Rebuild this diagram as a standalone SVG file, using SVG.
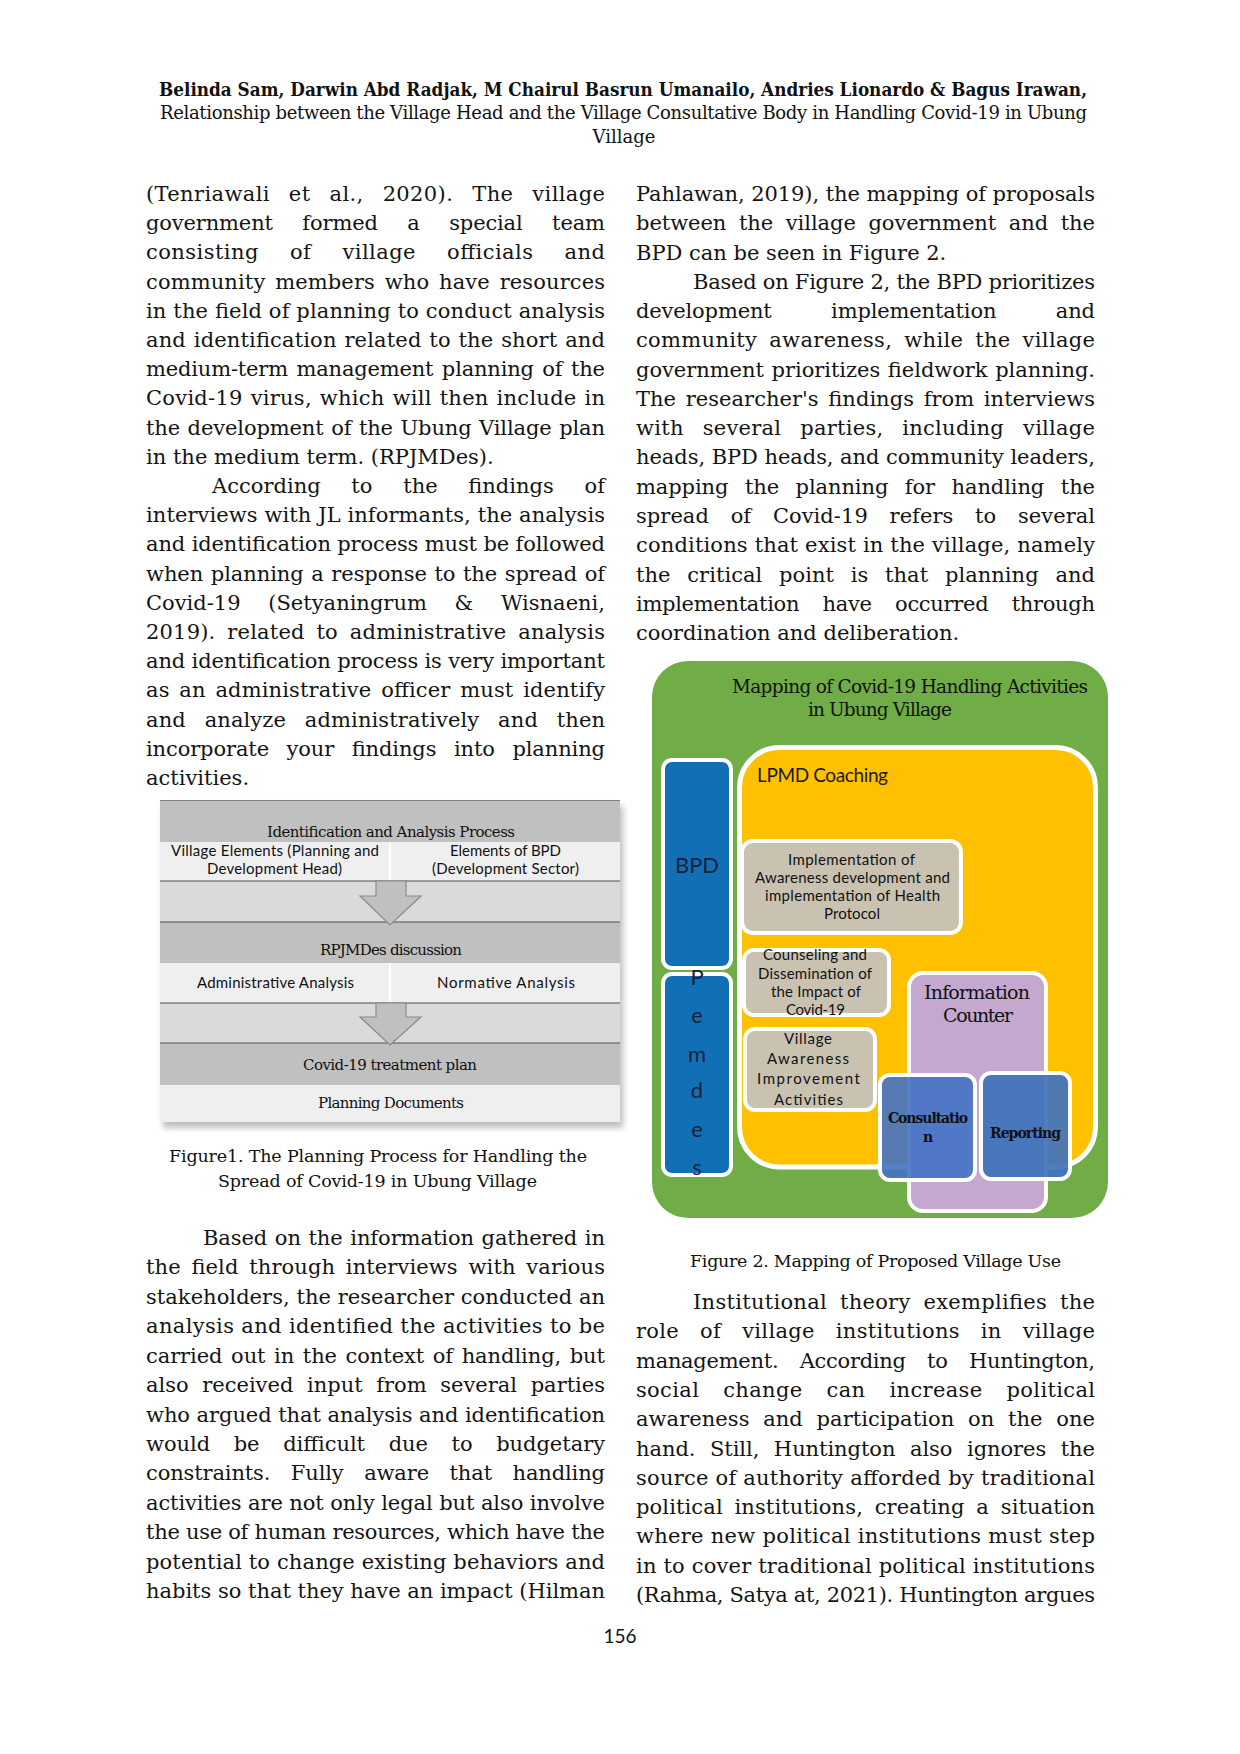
<svg xmlns="http://www.w3.org/2000/svg" width="1240" height="1754" viewBox="0 0 1240 1754">
<style>
.t{font-family:"DejaVu Serif","Liberation Serif",serif;font-size:21px;fill:#141414}
.hb{font-family:"DejaVu Serif","Liberation Serif",serif;font-weight:bold;font-size:18px;fill:#111}
.h{font-family:"DejaVu Serif","Liberation Serif",serif;font-size:18px;fill:#111}
.cap{font-family:"DejaVu Serif","Liberation Serif",serif;font-size:17.5px;fill:#111}
.fs{font-family:"DejaVu Serif","Liberation Serif",serif;font-size:15px;fill:#111}
.fl{font-family:Lato,"Liberation Sans",sans-serif;font-size:15px;fill:#111}
.band{fill:#C0C0C0}
.light{fill:#EFEFEF}
.gap{fill:#DADADA}
.sep{stroke:#505050;stroke-width:1.2}
.div{stroke:#FFFFFF;stroke-width:2}
.arrow{fill:#C0C0C0;stroke:#8A8A8A;stroke-width:1.2}
.gray{fill:#C9C2B1;stroke:#FFFFFF;stroke-width:4}
.gl{font-family:Lato,"Liberation Sans",sans-serif;font-size:15px;fill:#111}
.big{font-family:Lato,"Liberation Sans",sans-serif;font-size:22px;fill:#1B1F3A}
.f2s{font-family:"DejaVu Serif","Liberation Serif",serif;fill:#111}
</style>
<defs>
<filter id="blur" x="-5%" y="-5%" width="110%" height="115%"><feGaussianBlur stdDeviation="3"/></filter>
</defs>
<rect width="1240" height="1754" fill="#FFFFFF"/>

<g id="header">
<text class="hb" x="159" y="95.5" textLength="928" lengthAdjust="spacingAndGlyphs">Belinda Sam, Darwin Abd Radjak, M Chairul Basrun Umanailo, Andries Lionardo &amp; Bagus Irawan,</text>
<text class="h" x="160" y="119" textLength="927" lengthAdjust="spacing">Relationship between the Village Head and the Village Consultative Body in Handling Covid-19 in Ubung</text>
<text class="h" x="624" y="143" text-anchor="middle">Village</text>
</g>

<g id="left-column-top">
<text class="t" x="146" y="201" textLength="459" style="word-spacing:12px">(Tenriawali et al., 2020). The village</text>
<text class="t" x="146" y="230.2" textLength="459" style="word-spacing:23px">government formed a special team</text>
<text class="t" x="146" y="259.4" textLength="459" style="word-spacing:24px">consisting of village officials and</text>
<text class="t" x="146" y="288.6" textLength="459" style="word-spacing:3px">community members who have resources</text>
<text class="t" x="146" y="317.8" textLength="459">in the field of planning to conduct analysis</text>
<text class="t" x="146" y="347" textLength="459" style="word-spacing:1px">and identification related to the short and</text>
<text class="t" x="146" y="376.2" textLength="459" style="word-spacing:2px">medium-term management planning of the</text>
<text class="t" x="146" y="405.4" textLength="459" style="word-spacing:1px">Covid-19 virus, which will then include in</text>
<text class="t" x="146" y="434.6" textLength="459" style="word-spacing:1px">the development of the Ubung Village plan</text>
<text class="t" x="146" y="463.8">in the medium term. (RPJMDes).</text>
<text class="t" x="212" y="493" textLength="393" style="word-spacing:24px">According to the findings of</text>
<text class="t" x="146" y="522.2" textLength="459">interviews with JL informants, the analysis</text>
<text class="t" x="146" y="551.4" textLength="459">and identification process must be followed</text>
<text class="t" x="146" y="580.6" textLength="459" style="word-spacing:1px">when planning a response to the spread of</text>
<text class="t" x="146" y="609.8" textLength="459" style="word-spacing:21px">Covid-19 (Setyaningrum &amp; Wisnaeni,</text>
<text class="t" x="146" y="639" textLength="459" style="word-spacing:5px">2019). related to administrative analysis</text>
<text class="t" x="146" y="668.2" textLength="459">and identification process is very important</text>
<text class="t" x="146" y="697.4" textLength="459" style="word-spacing:3px">as an administrative officer must identify</text>
<text class="t" x="146" y="726.6" textLength="459" style="word-spacing:12px">and analyze administratively and then</text>
<text class="t" x="146" y="755.8" textLength="459" style="word-spacing:11px">incorporate your findings into planning</text>
<text class="t" x="146" y="785">activities.</text>
</g>

<g id="right-column-top">
<text class="t" x="636" y="201" textLength="459">Pahlawan, 2019), the mapping of proposals</text>
<text class="t" x="636" y="230.3" textLength="459" style="word-spacing:6px">between the village government and the</text>
<text class="t" x="636" y="259.5">BPD can be seen in Figure 2.</text>
<text class="t" x="693" y="288.8" textLength="402">Based on Figure 2, the BPD prioritizes</text>
<text class="t" x="636" y="318.1" textLength="459" style="word-spacing:53px">development implementation and</text>
<text class="t" x="636" y="347.4" textLength="459" style="word-spacing:5px">community awareness, while the village</text>
<text class="t" x="636" y="376.6" textLength="459" style="word-spacing:1px">government prioritizes fieldwork planning.</text>
<text class="t" x="636" y="405.9" textLength="459" style="word-spacing:3px">The researcher's findings from interviews</text>
<text class="t" x="636" y="435.2" textLength="459" style="word-spacing:12px">with several parties, including village</text>
<text class="t" x="636" y="464.4" textLength="459">heads, BPD heads, and community leaders,</text>
<text class="t" x="636" y="493.7" textLength="459" style="word-spacing:10px">mapping the planning for handling the</text>
<text class="t" x="636" y="523" textLength="459" style="word-spacing:15px">spread of Covid-19 refers to several</text>
<text class="t" x="636" y="552.2" textLength="459">conditions that exist in the village, namely</text>
<text class="t" x="636" y="581.5" textLength="459" style="word-spacing:10px">the critical point is that planning and</text>
<text class="t" x="636" y="610.8" textLength="459" style="word-spacing:17px">implementation have occurred through</text>
<text class="t" x="636" y="640">coordination and deliberation.</text>
</g>

<g id="figure1">
<rect x="163" y="806" width="460" height="322" fill="#8A8A8A" opacity="0.55" filter="url(#blur)"/>
<rect x="160" y="800" width="460" height="322" fill="#EFEFEF"/>
<g id="node-identification">
<rect class="band" x="160" y="800" width="460" height="42"/>
<line x1="160" y1="800.5" x2="620" y2="800.5" stroke="#808080" stroke-width="1"/>
<text class="fs" x="267" y="837" textLength="248">Identification and Analysis Process</text>
</g>
<g id="node-village-elements">
<rect class="light" x="160" y="842" width="230" height="38"/>
<text class="fl" x="171" y="856" textLength="208">Village Elements (Planning and</text>
<text class="fl" x="207" y="874" textLength="135">Development Head)</text>
</g>
<g id="node-bpd-elements">
<rect class="light" x="390" y="842" width="230" height="38"/>
<text class="fl" x="450" y="856" textLength="111">Elements of BPD</text>
<text class="fl" x="432" y="874" textLength="147">(Development Sector)</text>
</g>
<rect class="gap" x="160" y="881" width="460" height="41"/>
<line class="sep" x1="160" y1="881" x2="620" y2="881"/>
<g id="node-rpjmdes">
<rect class="band" x="160" y="922" width="460" height="41"/>
<line class="sep" x1="160" y1="922" x2="620" y2="922"/>
<text class="fs" x="320" y="955" textLength="142">RPJMDes discussion</text>
</g>
<g id="node-administrative">
<rect class="light" x="160" y="963" width="230" height="39"/>
<text class="fl" x="197" y="988" textLength="157">Administrative Analysis</text>
</g>
<g id="node-normative">
<rect class="light" x="390" y="963" width="230" height="39"/>
<text class="fl" x="437" y="988" textLength="138">Normative Analysis</text>
</g>
<line class="div" x1="390" y1="842" x2="390" y2="880"/>
<line class="div" x1="390" y1="963" x2="390" y2="1002"/>
<rect class="gap" x="160" y="1003" width="460" height="40"/>
<line class="sep" x1="160" y1="1003" x2="620" y2="1003"/>
<g id="node-covid-plan">
<rect class="band" x="160" y="1043" width="460" height="42"/>
<line class="sep" x1="160" y1="1043" x2="620" y2="1043"/>
<text class="fs" x="303" y="1070" textLength="174">Covid-19 treatment plan</text>
</g>
<g id="node-planning-docs">
<rect class="light" x="160" y="1085" width="460" height="37"/>
<text class="fs" x="318" y="1108" textLength="146">Planning Documents</text>
</g>
<g id="fig1-connectors">
<polygon class="arrow" points="376,881 406,881 406,896 421,896 390,925 360,896 376,896"/>
<polygon class="arrow" points="376,1003 406,1003 406,1017 421,1017 390,1045 360,1017 376,1017"/>
</g>
</g>

<g id="figure1-caption">
<text class="cap" x="169" y="1162" textLength="418">Figure1. The Planning Process for Handling the</text>
<text class="cap" x="218" y="1187" textLength="319">Spread of Covid-19 in Ubung Village</text>
</g>

<g id="figure2">
<g id="node-mapping">
<rect x="652" y="661" width="456" height="557" rx="36" fill="#70AD47"/>
<text class="f2s" x="732" y="693" font-size="18.5" textLength="356">Mapping of Covid-19 Handling Activities</text>
<text class="f2s" x="808" y="716" font-size="18.5" textLength="144">in Ubung Village</text>
</g>
<g id="node-bpd">
<rect x="663" y="760" width="68" height="208" rx="9" fill="#1170B5" stroke="#FFFFFF" stroke-width="4"/>
<text class="big" x="697" y="873" text-anchor="middle">BPD</text>
</g>
<g id="node-pemdes">
<rect x="663" y="974" width="68" height="201" rx="9" fill="#1170B5" stroke="#FFFFFF" stroke-width="4"/>
<text class="big" x="697" y="985" text-anchor="middle">P</text>
<text class="big" x="697" y="1023" text-anchor="middle">e</text>
<text class="big" x="697" y="1062" text-anchor="middle">m</text>
<text class="big" x="697" y="1098" text-anchor="middle">d</text>
<text class="big" x="697" y="1137" text-anchor="middle">e</text>
<text class="big" x="697" y="1175" text-anchor="middle">s</text>
</g>
<g id="node-lpmd">
<rect x="739.5" y="747.5" width="356" height="419.5" rx="40" fill="#FFC000" stroke="#FFFFFF" stroke-width="5"/>
<text x="757" y="782" font-family="Lato,'Liberation Sans',sans-serif" font-size="19" fill="#1A1A1A" textLength="131">LPMD Coaching</text>
</g>
<g id="node-implementation">
<rect class="gray" x="742" y="841" width="219" height="92" rx="11"/>
<text class="gl" x="788" y="865" textLength="127">Implementation of</text>
<text class="gl" x="755" y="883" textLength="195">Awareness development and</text>
<text class="gl" x="765" y="901" textLength="175">implementation of Health</text>
<text class="gl" x="824" y="919" textLength="56">Protocol</text>
</g>
<g id="node-counseling">
<rect class="gray" x="744" y="950" width="145" height="65" rx="10"/>
<text class="gl" x="763" y="960" textLength="104">Counseling and</text>
<text class="gl" x="758" y="979" textLength="114">Dissemination of</text>
<text class="gl" x="771" y="997" textLength="90">the Impact of</text>
<text class="gl" x="786" y="1015" textLength="59">Covid-19</text>
</g>
<g id="node-village-awareness">
<rect class="gray" x="745" y="1029" width="130" height="81" rx="10"/>
<text class="gl" x="784" y="1044" font-size="17.5" textLength="48">Village</text>
<text class="gl" x="767" y="1064" font-size="17.5" textLength="82">Awareness</text>
<text class="gl" x="757" y="1084" font-size="17.5" textLength="103">Improvement</text>
<text class="gl" x="774" y="1105" font-size="17.5" textLength="69">Activities</text>
</g>
<g id="node-information-counter">
<rect x="909" y="973" width="137" height="238" rx="14" fill="#C4A8CF" stroke="#FFFFFF" stroke-width="4"/>
<text class="f2s" x="924" y="999" font-size="19" textLength="106">Information</text>
<text class="f2s" x="943" y="1022" font-size="19" textLength="70">Counter</text>
</g>
<g id="node-consultation">
<rect x="880" y="1075" width="95" height="105" rx="10" fill="#4472C4" fill-opacity="0.9" stroke="#FFFFFF" stroke-width="4"/>
<text class="f2s" x="888" y="1123" font-size="14" font-weight="bold" fill="#111" textLength="80">Consultatio</text>
<text class="f2s" x="928" y="1142" font-size="14" font-weight="bold" text-anchor="middle">n</text>
</g>
<g id="node-reporting">
<rect x="981" y="1073" width="89" height="106" rx="10" fill="#3F72BD" fill-opacity="0.92" stroke="#FFFFFF" stroke-width="4"/>
<text class="f2s" x="990" y="1138" font-size="14" font-weight="bold" textLength="71">Reporting</text>
</g>
<g id="fig2-connectors"></g>
</g>

<g id="figure2-caption">
<text class="cap" x="690" y="1267" textLength="371">Figure 2. Mapping of Proposed Village Use</text>
</g>

<g id="left-column-bottom">
<text class="t" x="203" y="1245" textLength="402" style="word-spacing:1px">Based on the information gathered in</text>
<text class="t" x="146" y="1274.4" textLength="459" style="word-spacing:4px">the field through interviews with various</text>
<text class="t" x="146" y="1303.8" textLength="459">stakeholders, the researcher conducted an</text>
<text class="t" x="146" y="1333.3" textLength="459">analysis and identified the activities to be</text>
<text class="t" x="146" y="1362.7" textLength="459" style="word-spacing:2px">carried out in the context of handling, but</text>
<text class="t" x="146" y="1392.1" textLength="459" style="word-spacing:7px">also received input from several parties</text>
<text class="t" x="146" y="1421.5" textLength="459">who argued that analysis and identification</text>
<text class="t" x="146" y="1450.9" textLength="459" style="word-spacing:17px">would be difficult due to budgetary</text>
<text class="t" x="146" y="1480.4" textLength="459" style="word-spacing:14px">constraints. Fully aware that handling</text>
<text class="t" x="146" y="1509.8" textLength="459">activities are not only legal but also involve</text>
<text class="t" x="146" y="1539.2" textLength="459">the use of human resources, which have the</text>
<text class="t" x="146" y="1568.6" textLength="459">potential to change existing behaviors and</text>
<text class="t" x="146" y="1598" textLength="459">habits so that they have an impact (Hilman</text>
</g>

<g id="right-column-bottom">
<text class="t" x="693" y="1309" textLength="402" style="word-spacing:6px">Institutional theory exemplifies the</text>
<text class="t" x="636" y="1338.3" textLength="459" style="word-spacing:14px">role of village institutions in village</text>
<text class="t" x="636" y="1367.6" textLength="459" style="word-spacing:15px">management. According to Huntington,</text>
<text class="t" x="636" y="1396.9" textLength="459" style="word-spacing:17px">social change can increase political</text>
<text class="t" x="636" y="1426.2" textLength="459" style="word-spacing:7px">awareness and participation on the one</text>
<text class="t" x="636" y="1455.5" textLength="459" style="word-spacing:8px">hand. Still, Huntington also ignores the</text>
<text class="t" x="636" y="1484.8" textLength="459">source of authority afforded by traditional</text>
<text class="t" x="636" y="1514.1" textLength="459" style="word-spacing:5px">political institutions, creating a situation</text>
<text class="t" x="636" y="1543.4" textLength="459">where new political institutions must step</text>
<text class="t" x="636" y="1572.7" textLength="459">in to cover traditional political institutions</text>
<text class="t" x="636" y="1602" textLength="459">(Rahma, Satya at, 2021). Huntington argues</text>
</g>

<g id="page-number">
<text x="620" y="1643" font-family="Lato,'Liberation Sans',sans-serif" font-size="19" fill="#111" text-anchor="middle">156</text>
</g>
</svg>
